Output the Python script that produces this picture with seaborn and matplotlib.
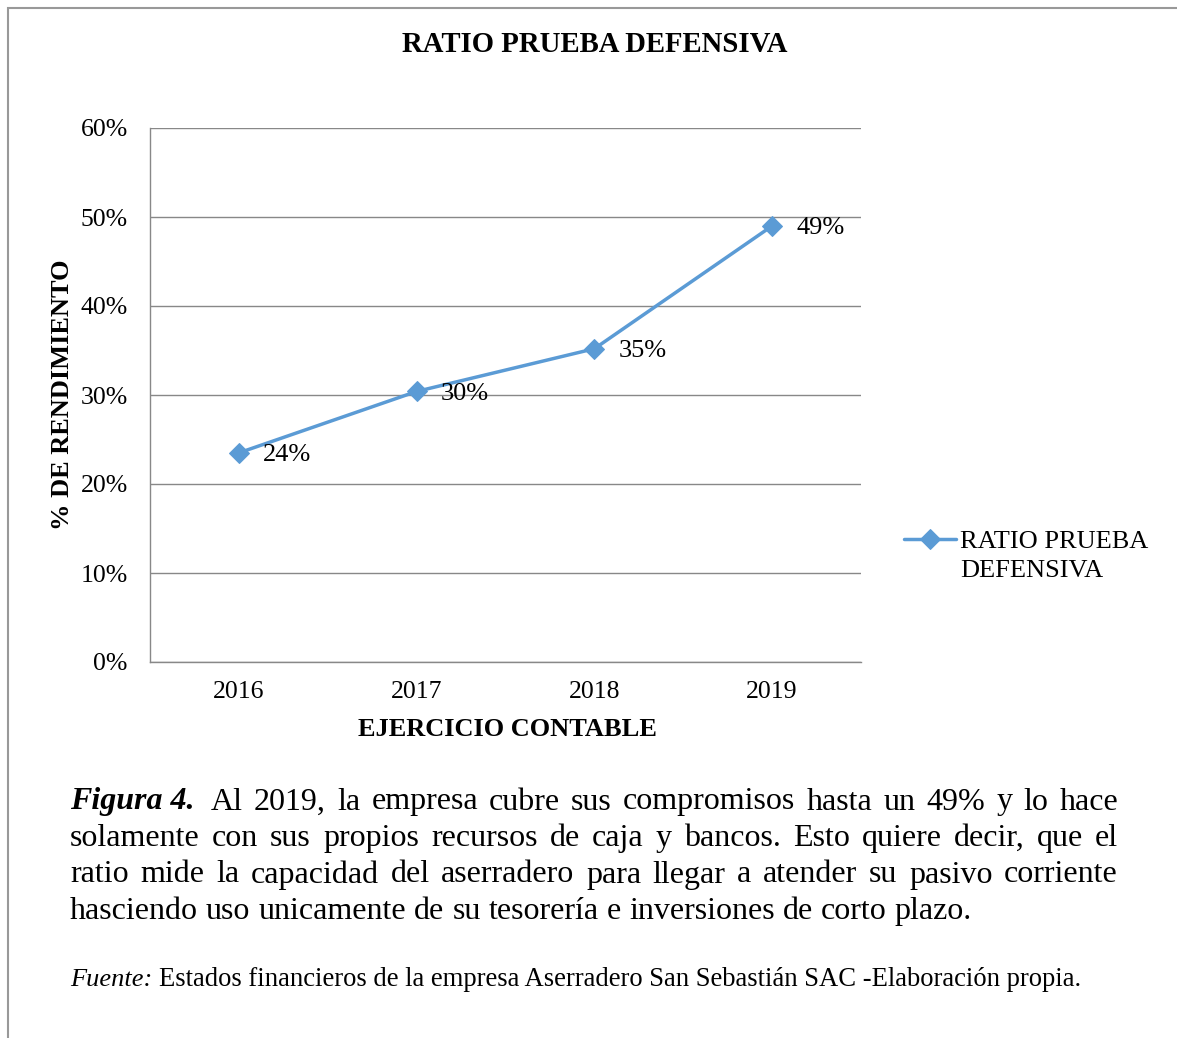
import numpy as np
import pandas as pd
import seaborn as sns
import matplotlib.pyplot as plt
from matplotlib.patches import Rectangle

years = ['2016', '2017', '2018', '2019']
ratio = [0.235, 0.304, 0.352, 0.490]
labels = ['24%', '30%', '35%', '49%']
yticks = [0, 0.1, 0.2, 0.3, 0.4, 0.5, 0.6]

caption_lines = [
    'Al 2019, la empresa cubre sus compromisos hasta un 49% y lo hace',
    'solamente con sus propios recursos de caja y bancos. Esto quiere decir, que el',
    'ratio mide la capacidad del aserradero para llegar a atender su pasivo corriente',
    'hasciendo uso unicamente de su tesorería e inversiones de corto plazo.',
]
source = 'Estados financieros de la empresa Aserradero San Sebastián SAC -Elaboración propia.'

df = pd.DataFrame({'year': years, 'ratio': ratio})
df['x'] = np.arange(len(years))

sns.set_style('white')
plt.rcParams['font.family'] = ['Liberation Serif', 'DejaVu Serif']
plt.rcParams['text.color'] = 'black'
plt.rcParams['axes.labelcolor'] = 'black'

W, H = 1177, 1038
fig = plt.figure(figsize=(W / 100, H / 100), dpi=100)
ax = fig.add_axes([150 / W, 1 - 662 / H, 711 / W, 534 / H])

blue = '#5B9BD5'
sns.lineplot(data=df, x='x', y='ratio', ax=ax, color=blue, lw=2.5,
             marker='D', markersize=10, markeredgecolor=blue,
             label='RATIO PRUEBA')

for xi, yi, t in zip(df['x'], df['ratio'], labels):
    ax.annotate(t, (xi, yi), xytext=(17.5, -1.5), textcoords='offset points',
                ha='left', va='center', fontsize=19)

ax.set_xlim(-0.5, 3.5)
ax.set_ylim(0, 0.6)
ax.set_xticks(df['x'])
ax.set_xticklabels(years, fontsize=18.5)
ax.set_yticks(yticks)
ax.set_yticklabels([f'{int(round(v * 100))}%' for v in yticks], fontsize=18.5)
ax.tick_params(axis='y', length=4, color='#888888', pad=12, width=1, labelcolor='black')
ax.tick_params(axis='x', length=0, pad=14, labelcolor='black')
ax.grid(axis='y', color='#888888', lw=1)
ax.set_axisbelow(True)
for s in ['top', 'right']:
    ax.spines[s].set_visible(False)
for s in ['left', 'bottom']:
    ax.spines[s].set_color('#888888')
    ax.spines[s].set_linewidth(1)

ax.set_xlabel('EJERCICIO CONTABLE', fontsize=19, fontweight='bold')
ax.set_ylabel('% DE RENDIMIENTO', fontsize=19, fontweight='bold')
ax.xaxis.set_label_coords(357 / 711, -56 / 534)
ax.yaxis.set_label_coords(-76 / 711, (662 - 395) / 534)

fig.text(595 / W, 1 - 45 / H, 'RATIO PRUEBA DEFENSIVA', ha='center', va='center',
         fontsize=20.7, fontweight='bold')

leg = ax.legend(loc='center left', bbox_to_anchor=(893 / W, 1 - 541 / H),
                bbox_transform=fig.transFigure, frameon=False, fontsize=19,
                handlelength=2.0, handletextpad=0.15, borderaxespad=0)

# frame around the figure
fig.patches.append(Rectangle((8 / W, -0.01), 1.5, 1 - 8 / H + 0.01,
                             transform=fig.transFigure, fill=False,
                             edgecolor='#999999', lw=1.5))

fig.canvas.draw()
renderer = fig.canvas.get_renderer()

# second line of the legend entry, under the first one
lt = leg.get_texts()[0].get_window_extent(renderer)
fig.text(lt.x0 / W, 1 - 571 / H, 'DEFENSIVA', ha='left', va='center', fontsize=19)


def width_px(t):
    return t.get_window_extent(renderer).width


def put_words(words, x_left, x_right, y, size, justify):
    items = [fig.text(0, 1 - y / H, w, ha='left', va='center', fontsize=size)
             for w in words]
    widths = [width_px(t) for t in items]
    probe1 = fig.text(0, 0, 'a a', fontsize=size)
    probe2 = fig.text(0, 0, 'aa', fontsize=size)
    space = width_px(probe1) - width_px(probe2)
    probe1.remove()
    probe2.remove()
    if justify and len(words) > 1:
        gap = (x_right - x_left - sum(widths)) / (len(words) - 1)
    else:
        gap = space
    x = x_left
    for t, w in zip(items, widths):
        t.set_x(x / W)
        x += w + gap


# caption
y0 = 802
right = 1118
fig.text(70 / W, 1 - y0 / H, 'Figura 4.', ha='left', va='center',
         fontsize=23, fontstyle='italic', fontweight='bold')
put_words(caption_lines[0].split(), 211, right, y0, 23, True)
for i, line in enumerate(caption_lines[1:], start=1):
    put_words(line.split(), 70, right, y0 + 36.5 * i, 23, i < 3)

fue = fig.text(70 / W, 1 - 980 / H, 'Fuente:', ha='left', va='center', fontsize=19,
               fontstyle='italic')
fx = 70 + width_px(fue) + 7
fig.text(fx / W, 1 - 980 / H, source, ha='left', va='center', fontsize=19.2)

fig.savefig('out.png', dpi=100)
